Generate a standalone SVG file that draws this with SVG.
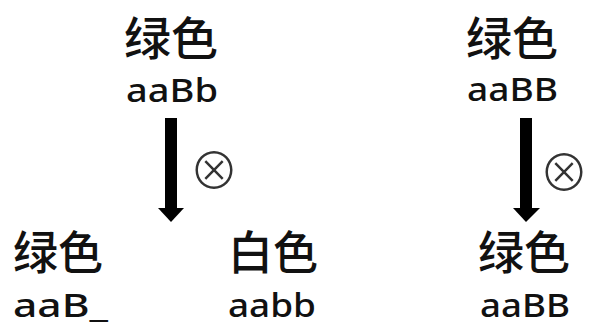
<svg xmlns="http://www.w3.org/2000/svg" width="589" height="322" viewBox="0 0 589 322">
<style>
.cjk{font-family:"Noto Sans CJK SC","Noto Sans",sans-serif;font-size:46px;font-weight:500;fill:#111}
.lat{font-family:"Noto Sans","Liberation Sans",sans-serif;font-size:33px;font-weight:500;fill:#111}
.sym{font-family:"Noto Sans CJK SC",sans-serif;font-size:50px;font-weight:300;fill:#333;text-anchor:middle}
.arr{fill:#000}
</style>
<rect width="589" height="322" fill="#fff"/>
<g id="p1">
<text class="cjk" x="124" y="55" textLength="94" lengthAdjust="spacingAndGlyphs">绿色</text>
<text class="lat" x="126" y="102" textLength="92" lengthAdjust="spacingAndGlyphs">aaBb</text>
</g>
<g id="p2">
<text class="cjk" x="466" y="55" textLength="92" lengthAdjust="spacingAndGlyphs">绿色</text>
<text class="lat" x="467" y="101" textLength="91" lengthAdjust="spacingAndGlyphs">aaBB</text>
</g>
<g id="c1">
<text class="cjk" x="13" y="269" textLength="90" lengthAdjust="spacingAndGlyphs">绿色</text>
<text class="lat" x="13" y="317" textLength="95" lengthAdjust="spacingAndGlyphs">aaB_</text>
</g>
<g id="c2">
<text class="cjk" x="228" y="269" textLength="90" lengthAdjust="spacingAndGlyphs">白色</text>
<text class="lat" x="228" y="317" textLength="88" lengthAdjust="spacingAndGlyphs">aabb</text>
</g>
<g id="c3">
<text class="cjk" x="478" y="269" textLength="92" lengthAdjust="spacingAndGlyphs">绿色</text>
<text class="lat" x="480" y="317" textLength="90" lengthAdjust="spacingAndGlyphs">aaBB</text>
</g>
<g id="connectors">
<rect class="arr" x="165" y="118" width="12" height="92"/>
<polygon class="arr" points="158,208 184,208 171,222"/>
<rect class="arr" x="520" y="118" width="12" height="92"/>
<polygon class="arr" points="513,208 540,208 526,222"/>
<text class="sym" x="214" y="189">⊗</text>
<text class="sym" x="564" y="191">⊗</text>
</g>
</svg>
